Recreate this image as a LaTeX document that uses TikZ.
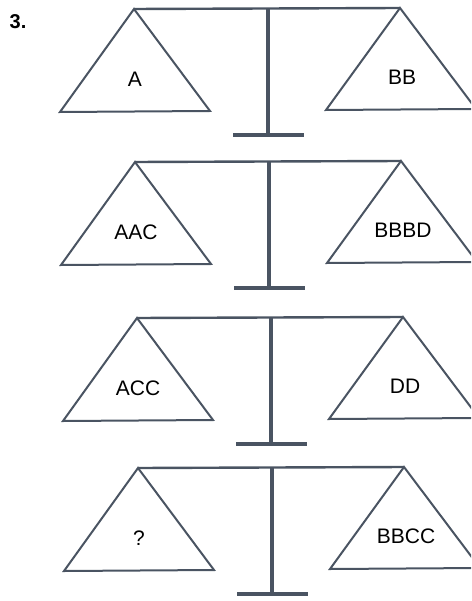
\documentclass[tikz,border=0pt]{standalone}
\usepackage{fontspec}
\setmainfont{Liberation Sans}
\definecolor{beamgray}{HTML}{4A5462}
\tikzset{
  pan/.style={draw=beamgray, line width=2pt, line join=miter},
  beam/.style={draw=beamgray, line width=2.4pt},
  post/.style={draw=beamgray, line width=4pt},
  load/.style={inner sep=0pt, font=\fontsize{21}{25}\selectfont}
}
\begin{document}
\begin{tikzpicture}[x=1pt, y=-1pt]
				\useasboundingbox (0,0) rectangle (471,601);
				\clip (0,0) rectangle (471,601);
				\node [font=\bfseries\fontsize{20}{24}\selectfont] (num) at (18,22) {3.};
				\foreach \y/\dx/\lt/\rt [count=\i] in {9/0/A/BB, 162/1/AAC/BBBD, 318/3/ACC/DD, 468/4/?/BBCC}{
				% beam and post
				\draw [beam] (134+\dx,\y) -- (400+\dx,\y-1);
				\draw [post] (268+\dx,\y) -- (268+\dx,\y+126);
				\draw [post, line width=4.5pt] (233+\dx,\y+126) -- (304+\dx,\y+126);
				% pans
				\draw [pan] (134+\dx,\y) -- (60+\dx,\y+103) -- (210+\dx,\y+102) -- cycle;
				\draw [pan] (400+\dx,\y-1) -- (326+\dx,\y+101) -- (476+\dx,\y+100) -- cycle;
				\node [load] (l\i) at (135+\dx,\y+70) {\lt};
				\node [load] (r\i) at (402+\dx,\y+68) {\rt};
				}
			\end{tikzpicture}
\end{document}
